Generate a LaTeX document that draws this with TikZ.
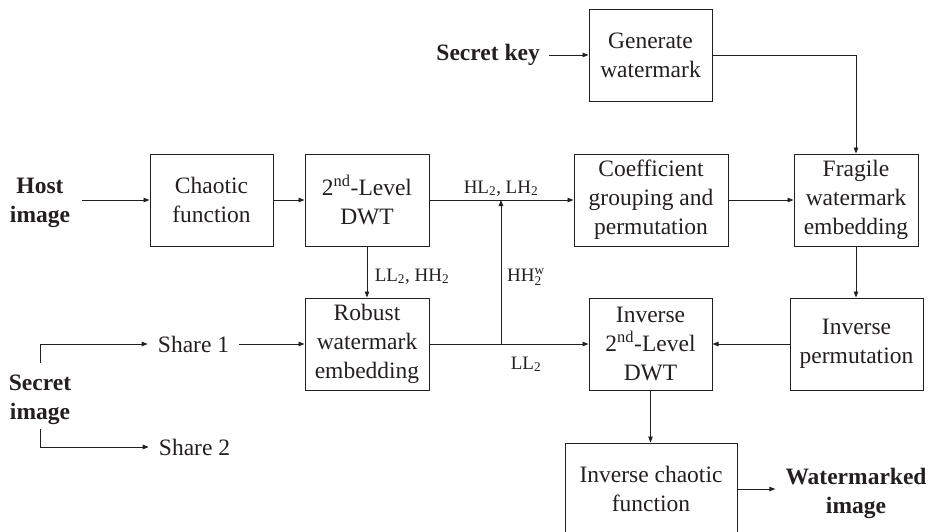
\documentclass[tikz,border=0pt]{standalone}
\usepackage{fontspec}
\setmainfont{Liberation Serif}
\usetikzlibrary{arrows.meta,calc}
\definecolor{ink}{HTML}{231F20}
\begin{document}
\begin{tikzpicture}[x=1pt,y=-1pt,
  every node/.style={text=ink},
  box/.style={draw=ink, line width=1pt, minimum height=92pt, inner sep=0pt, align=center, font=\fontsize{23.5}{29}\selectfont},
  arr/.style={draw=ink, -{Triangle[length=6pt,width=4.5pt]}, line width=0.9pt},
  lbl/.style={font=\fontsize{19}{22}\selectfont, inner sep=0pt},
  ext/.style={font=\fontsize{23.5}{29}\selectfont, align=center, inner ysep=0pt},
  bext/.style={ext, font=\fontsize{23.5}{29}\selectfont\bfseries}]
\useasboundingbox (0,0) rectangle (934,531);

\node[box, minimum width=123pt] (gen) at (650.5,55) {Generate\\watermark};
\node[box, minimum width=123pt] (chaos) at (211.5,200) {Chaotic\\function};
\node[box, minimum width=124pt] (dwt) at (367,200) {2\textsuperscript{nd}-Level\\DWT};
\node[box, minimum width=154pt] (coef) at (651,200) {Coefficient\\grouping and\\permutation};
\node[box, minimum width=124pt] (frag) at (856,200) {Fragile\\watermark\\embedding};
\node[box, minimum width=124pt] (rob) at (367,344) {Robust\\watermark\\embedding};
\node[box, minimum width=123pt] (idwt) at (650.5,344) {Inverse\\2\textsuperscript{nd}-Level\\DWT};
\node[box, minimum width=133pt] (iperm) at (856.5,344) {Inverse\\permutation};
\node[box, minimum width=172pt] (ichaos) at (651,489) {Inverse chaotic\\function};

\node[bext, inner xsep=12pt] (host) at (40,203) {Host\\image};
\node[bext, anchor=east, inner xsep=9pt] (sk) at (549,55) {Secret key};
\node[bext] (simg) at (40,400) {Secret\\image};
\node[ext, inner xsep=10pt] (sh1) at (193.5,344) {Share 1};
\node[ext, inner xsep=10pt] (sh2) at (194.5,447) {Share 2};
\node[bext, inner xsep=10pt] (wm) at (856,493) {Watermarked\\image};

\coordinate (s1) at (40,363);
\coordinate (s2) at (40,429);
\coordinate (jb) at (501,344);

\draw[arr] (host.east |- chaos.west) -- (chaos.west);
\draw[arr] (chaos) -- (dwt);
\draw[arr] (dwt) -- (coef);
\draw[arr] (coef) -- (frag);
\draw[arr] (sk) -- (gen);
\draw[arr] (gen.east) -| (frag.north);
\draw[arr] (frag.south) -- (frag.south |- iperm.north);
\draw[arr] (dwt) -- (rob);
\draw[arr] (sh1) -- (rob);
\draw[arr] (rob) -- (idwt);
\draw[arr] (jb) -- (jb |- dwt.east);
\draw[arr] (iperm) -- (idwt);
\draw[arr] (idwt.south) -- (idwt.south |- ichaos.north);
\draw[arr] (ichaos.east) -- (ichaos.east -| wm.west);
\draw[arr] (s1) |- (sh1.west);
\draw[arr] (s2) |- (sh2.west);

\node[lbl, anchor=base] (l1) at (501,193) {HL\textsubscript{2}, LH\textsubscript{2}};
\node[lbl, anchor=base] (l2) at (412,281) {LL\textsubscript{2}, HH\textsubscript{2}};
\node[lbl, anchor=base west] (l3) at (507,281) {HH$^{\mathrm{w}}_{\mathrm{2}}$};
\node[lbl, anchor=base] (l4) at (526,369) {LL\textsubscript{2}};
\end{tikzpicture}
\end{document}
